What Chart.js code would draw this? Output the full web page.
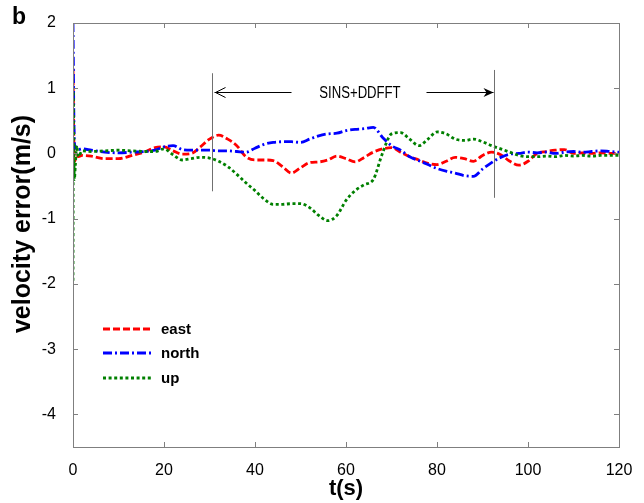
<!DOCTYPE html>
<html>
<head>
<meta charset="utf-8">
<script src="https://cdn.jsdelivr.net/npm/chart.js@4.4.1/dist/chart.umd.min.js"></script>
<style>
  html, body { margin: 0; padding: 0; background: #ffffff; }
  #wrap { width: 644px; height: 503px; position: relative; }
</style>
</head>
<body>
<div id="wrap"><canvas id="c" width="644" height="503"></canvas></div>
<script>
// ---- data ----
const times = [0, 0.08, 0.15, 0.3, 0.5, 0.8, 1.2, 2, 4, 7, 10, 13, 16, 18, 20, 22, 24, 26, 28, 30,
  32, 34, 36, 38, 40, 42, 44, 46, 48, 50, 52, 54, 56, 58, 60, 62, 64, 66, 68, 70,
  72, 74, 76, 78, 80, 82, 84, 86, 88, 90, 92, 94, 96, 98, 100, 102, 104, 106, 108, 110,
  112, 114, 116, 118, 120];
const east = [1.3, 0.9, 0.4, -0.12, -0.1, -0.02, -0.05, -0.03, -0.04, -0.08, -0.08, -0.03, 0.03, 0.09, 0.1, 0.04, -0.01, 0.0, 0.1, 0.22,
  0.28, 0.22, 0.12, -0.05, -0.1, -0.1, -0.11, -0.2, -0.3, -0.22, -0.14, -0.13, -0.1, -0.04, -0.08, -0.13, -0.06, 0.02, 0.07, 0.09,
  0.02, -0.05, -0.1, -0.15, -0.17, -0.12, -0.06, -0.08, -0.12, -0.03, 0.02, -0.02, -0.12, -0.18, -0.12, 0.0, 0.03, 0.05, 0.06, 0.0,
  0.01, 0.0, 0.01, 0.0, 0.0];
const north = [2.0, 1.4, 0.8, 0.2, 0.08, 0.1, 0.06, 0.07, 0.05, 0.02, 0.01, 0.02, 0.03, 0.05, 0.1, 0.12, 0.06, 0.05, 0.05, 0.05,
  0.04, 0.04, 0.03, 0.02, 0.08, 0.14, 0.17, 0.18, 0.18, 0.17, 0.22, 0.27, 0.3, 0.31, 0.35, 0.37, 0.38, 0.4, 0.25, 0.12,
  0.05, -0.05, -0.11, -0.17, -0.23, -0.27, -0.3, -0.34, -0.35, -0.24, -0.14, -0.06, -0.01, 0.0, 0.02, 0.01, 0.02, 0.0, 0.02, 0.03,
  0.02, 0.03, 0.04, 0.03, 0.02];
const up = [-1.95, 0.95, 0.3, -0.4, -0.2, 0.12, -0.05, 0.04, 0.03, 0.04, 0.05, 0.04, 0.03, 0.03, 0.07, -0.02, -0.1, -0.08, -0.06, -0.07,
  -0.12, -0.2, -0.32, -0.45, -0.57, -0.7, -0.78, -0.78, -0.77, -0.77, -0.83, -0.95, -1.03, -0.95, -0.72, -0.57, -0.48, -0.4, 0.0, 0.3,
  0.32, 0.22, 0.12, 0.22, 0.33, 0.3, 0.22, 0.2, 0.22, 0.18, 0.12, 0.07, 0.02, -0.03, -0.05, -0.05, -0.04, -0.05, -0.03, -0.04,
  -0.03, -0.04, -0.03, -0.03, -0.03];
const seriesNames = ['east', 'north', 'up'];
const xTicks = [0, 20, 40, 60, 80, 100, 120];
const yTicks = [2, 1, 0, -1, -2, -3, -4];
const spanStart = 30.5;     // SINS+DDFFT interval
const spanEnd = 92.5;
const spanLabel = 'SINS+DDFFT';
const xTitle = 't(s)';
const yTitle = 'velocity error(m/s)';
const panelLabel = 'b';

// ---- styles ----
const colors = ['#ff0000', '#0000ff', '#008000'];
const dashes = [[7, 3], [9, 3, 2, 3], [3, 2.6]];
const FONT = '"Liberation Sans", Arial, Helvetica, sans-serif';

function toPts(vals) { return times.map((t, i) => ({ x: t, y: vals[i] })); }

const decor = {
  id: 'decor',
  afterDatasetsDraw(chart) {
    const ctx = chart.ctx, a = chart.chartArea;
    const xs = chart.scales.x, ys = chart.scales.y;
    ctx.save();
    // frame
    ctx.strokeStyle = '#7f7f7f';
    ctx.lineWidth = 1;
    ctx.setLineDash([]);
    ctx.strokeRect(a.left + 0.5, a.top + 0.5, a.right - a.left, a.bottom - a.top);
    // inward ticks
    const tl = 5;
    ctx.beginPath();
    xTicks.forEach(v => {
      const px = Math.round(xs.getPixelForValue(v)) + 0.5;
      ctx.moveTo(px, a.bottom); ctx.lineTo(px, a.bottom - tl);
      ctx.moveTo(px, a.top); ctx.lineTo(px, a.top + tl);
    });
    yTicks.forEach(v => {
      const py = Math.round(ys.getPixelForValue(v)) + 0.5;
      ctx.moveTo(a.left, py); ctx.lineTo(a.left + tl, py);
      ctx.moveTo(a.right, py); ctx.lineTo(a.right - tl, py);
    });
    ctx.stroke();

    // annotation: interval lines
    const x1 = Math.round(xs.getPixelForValue(spanStart)) + 0.5;
    const x2 = Math.round(xs.getPixelForValue(spanEnd)) + 0.5;
    ctx.strokeStyle = '#707070';
    ctx.beginPath();
    ctx.moveTo(x1, ys.getPixelForValue(1.23)); ctx.lineTo(x1, ys.getPixelForValue(-0.58));
    ctx.moveTo(x2, ys.getPixelForValue(1.28)); ctx.lineTo(x2, ys.getPixelForValue(-0.68));
    ctx.stroke();
    // arrows
    const ay = Math.round(ys.getPixelForValue(0.94)) + 0.5;
    ctx.strokeStyle = '#000';
    ctx.fillStyle = '#000';
    ctx.beginPath();
    ctx.moveTo(x1 + 2, ay); ctx.lineTo(x1 + 79, ay);
    ctx.moveTo(x2 - 68, ay); ctx.lineTo(x2 - 1, ay);
    ctx.stroke();
    ctx.beginPath();
    ctx.moveTo(x1 + 13, ay - 5); ctx.lineTo(x1 + 3, ay); ctx.lineTo(x1 + 13, ay + 5);
    ctx.stroke();
    ctx.beginPath();
    ctx.moveTo(x2 - 11, ay - 4.5); ctx.lineTo(x2 - 1, ay); ctx.lineTo(x2 - 11, ay + 4.5); ctx.lineTo(x2 - 8, ay); ctx.closePath();
    ctx.fill();
    // label (condensed)
    ctx.save();
    ctx.translate((x1 + 79 + x2 - 68) / 2 + 1, ay + 1);
    ctx.scale(0.82, 1);
    ctx.font = '16px ' + FONT;
    ctx.textAlign = 'center';
    ctx.textBaseline = 'middle';
    ctx.fillText(spanLabel, 0, 0);
    ctx.restore();

    // legend
    const lx0 = 103, lx1 = 152;
    const ly = [329, 353, 378];
    ctx.font = 'bold 15px ' + FONT;
    ctx.textAlign = 'left';
    ctx.textBaseline = 'middle';
    seriesNames.forEach((name, i) => {
      ctx.strokeStyle = colors[i];
      ctx.lineWidth = 2.8;
      ctx.setLineDash(dashes[i]);
      ctx.beginPath();
      ctx.moveTo(lx0, ly[i]); ctx.lineTo(lx1, ly[i]);
      ctx.stroke();
      ctx.setLineDash([]);
      ctx.fillStyle = '#000';
      ctx.fillText(name, 161, ly[i] + 1);
    });

    // titles
    ctx.fillStyle = '#000';
    ctx.font = 'bold 22px ' + FONT;
    ctx.textAlign = 'center';
    ctx.textBaseline = 'middle';
    ctx.fillText(xTitle, (a.left + a.right) / 2, 489);
    ctx.save();
    ctx.translate(23, 224);
    ctx.rotate(-Math.PI / 2);
    ctx.font = 'bold 25px ' + FONT;
    ctx.fillText(yTitle, 0, 0);
    ctx.restore();
    ctx.font = 'bold 23px ' + FONT;
    ctx.textAlign = 'left';
    ctx.fillText(panelLabel, 12, 18);
    ctx.restore();
  }
};

new Chart(document.getElementById('c'), {
  type: 'line',
  data: {
    datasets: seriesNames.map((name, i) => ({
      label: name,
      data: toPts([east, north, up][i]),
      borderColor: colors[i],
      borderWidth: 2.8,
      borderDash: dashes[i],
      pointRadius: 0,
      fill: false,
      cubicInterpolationMode: 'monotone',
      order: 3 - i
    }))
  },
  options: {
    responsive: false,
    animation: false,
    events: [],
    layout: { padding: { left: 0, top: 23, right: 25, bottom: 0 } },
    plugins: { legend: { display: false }, tooltip: { enabled: false } },
    scales: {
      x: {
        type: 'linear', min: 0, max: 120,
        afterBuildTicks: s => { s.ticks = xTicks.map(v => ({ value: v })); },
        afterFit: s => { s.height = 56; },
        grid: { display: false },
        border: { display: false },
        ticks: { color: '#000', font: { family: FONT, size: 16 }, padding: 6, maxRotation: 0 }
      },
      y: {
        type: 'linear', min: -4.5, max: 2,
        afterBuildTicks: s => { s.ticks = yTicks.map(v => ({ value: v })); },
        afterFit: s => { s.width = 73; },
        grid: { display: false },
        border: { display: false },
        ticks: { color: '#000', font: { family: FONT, size: 16 }, padding: 9 }
      }
    }
  },
  plugins: [decor]
});
</script>
</body>
</html>
